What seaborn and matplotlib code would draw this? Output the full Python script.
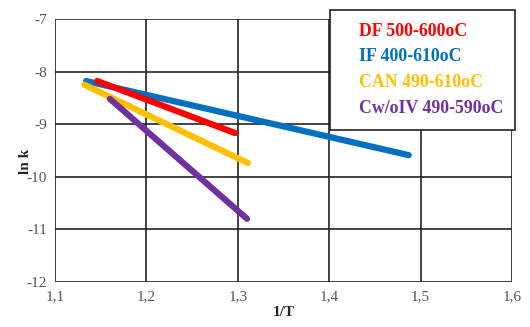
import pandas as pd
import seaborn as sns
import matplotlib.pyplot as plt
from matplotlib.ticker import FuncFormatter

sns.set_style("white")
plt.rcParams["font.family"] = ["Liberation Serif", "DejaVu Serif"]

# endpoints of each fitted line (1/T, ln k)
series_names = ["DF 500-600oC", "IF 400-610oC", "CAN 490-610oC", "Cw/oIV 490-590oC"]
x_start = [1.146, 1.134, 1.132, 1.160]
x_end = [1.297, 1.487, 1.311, 1.310]
y_start = [-8.18, -8.18, -8.25, -8.52]
y_end = [-9.17, -9.59, -9.74, -10.80]
colors = ["#FF0000", "#0070C0", "#FFC000", "#7030A0"]

rows = []
for name, x0, x1, y0, y1 in zip(series_names, x_start, x_end, y_start, y_end):
    rows.append({"series": name, "x": x0, "y": y0})
    rows.append({"series": name, "x": x1, "y": y1})
df = pd.DataFrame(rows)

fig, ax = plt.subplots(figsize=(5.3, 3.27), dpi=100)
fig.subplots_adjust(left=0.104, right=0.966, top=0.942, bottom=0.138)

# draw IF first so DF sits over it like in the original
order = [1, 0, 2, 3]
for i in order:
    sub = df[df["series"] == series_names[i]]
    sns.lineplot(data=sub, x="x", y="y", color=colors[i], lw=4.5,
                 solid_capstyle="round", ax=ax, legend=False, zorder=3)

ax.set_xlim(1.1, 1.6)
ax.set_ylim(-12, -7)
ax.set_xticks([1.1, 1.2, 1.3, 1.4, 1.5, 1.6])
ax.set_yticks([-12, -11, -10, -9, -8, -7])
ax.xaxis.set_major_formatter(FuncFormatter(lambda v, p: f"{v:.1f}".replace(".", ",")))
ax.yaxis.set_major_formatter(FuncFormatter(lambda v, p: f"{v:.0f}"))
ax.grid(True, color="#222222", lw=1.2)
for s in ax.spines.values():
    s.set_visible(False)
ax.tick_params(axis="both", length=0, labelsize=11, labelcolor="#555555", pad=6)

ax.set_xlabel("1/T", fontweight="bold", fontsize=11, labelpad=2)
ax.set_ylabel("")
fig.text(0.048, 0.505, "ln k", rotation=90, fontweight="bold", fontsize=11,
         ha="center", va="center")

handles = [plt.Line2D([], [], color="none") for _ in series_names]
leg = ax.legend(handles, series_names, loc="upper left",
                bbox_to_anchor=(0.623, 0.969), bbox_transform=fig.transFigure,
                handlelength=0, handletextpad=0.9, labelcolor=colors,
                prop={"weight": "bold", "size": 12.8}, frameon=True,
                fancybox=False, edgecolor="#222222", framealpha=1,
                borderpad=0.7, labelspacing=0.5, borderaxespad=0)
leg.get_frame().set_linewidth(1.2)
leg.set_zorder(5)

fig.savefig("out.png", dpi=100)
